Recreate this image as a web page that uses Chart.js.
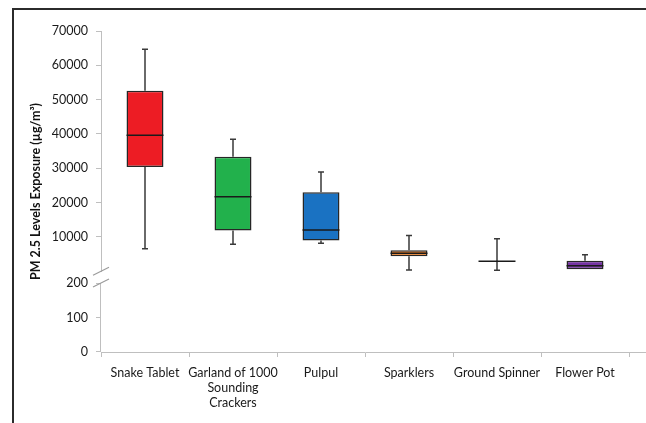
<!DOCTYPE html>
<html>
<head>
<meta charset="utf-8">
<script src="https://cdn.jsdelivr.net/npm/chart.js@4.4.0/dist/chart.umd.min.js"></script>
<style>
  html, body { margin: 0; padding: 0; background: #fff; }
  #wrap { position: absolute; left: 0; top: 0; width: 646px; height: 423px; }
  #frame { position: absolute; left: 12px; top: 8px; width: 634px; height: 415px;
           border-left: 2px solid #2b2b2b; border-top: 2px solid #2b2b2b; pointer-events: none; }
</style>
</head>
<body>
<div id="wrap"><canvas id="chart" width="646" height="423"></canvas></div>
<div id="frame"></div>
<script>
// datos del diagrama de cajas
const categories = ['Snake Tablet', ['Garland of 1000', 'Sounding', 'Crackers'], 'Pulpul', 'Sparklers', 'Ground Spinner', 'Flower Pot'];
const whiskerMax = [64700, 38500, 28900, 10400, 9500, 4850];
const q3Values   = [52600, 33400, 23000, 6100, 2950, 3100];
const medians    = [39650, 21700, 12050, 5250, 2900, 1650];
const q1Values   = [30350, 11850, 8950, 4400, 2850, 600];
const whiskerMin = [6600, 7900, 8150, 400, 300, 600];
const upperTicks = [10000, 20000, 30000, 40000, 50000, 60000, 70000];
const lowerTicks = [0, 100, 200];
const boxColors  = ['#ed1c24', '#22b14c', '#1a72c2', '#ee7a1c', '#1a1a1a', '#7533a3'];

const axisColor = '#bfbfbf';
const tickFont = { family: 'Lato', size: 12.5 };

const boxPlotExtras = {
    id: 'boxPlotExtras',
    afterDatasetsDraw(chart) {
        const ctx = chart.ctx;
        const yScale = chart.scales.y;
        const meta = chart.getDatasetMeta(0);
        ctx.save();
        meta.data.forEach((bar, i) => {
            const x = bar.x;
            const half = bar.width / 2;
            const yMax = yScale.getPixelForValue(whiskerMax[i]);
            const yQ3 = yScale.getPixelForValue(q3Values[i]);
            const yQ1 = yScale.getPixelForValue(q1Values[i]);
            const yMin = yScale.getPixelForValue(whiskerMin[i]);
            const yMed = yScale.getPixelForValue(medians[i]);

            ctx.strokeStyle = '#3a3a3a';
            ctx.lineWidth = 1.5;
            ctx.beginPath();
            if (whiskerMax[i] > q3Values[i]) {
                ctx.moveTo(x, yQ3); ctx.lineTo(x, yMax);
                ctx.moveTo(x - 3, yMax); ctx.lineTo(x + 3, yMax);
            }
            if (whiskerMin[i] < q1Values[i]) {
                ctx.moveTo(x, yQ1); ctx.lineTo(x, yMin);
                ctx.moveTo(x - 3, yMin); ctx.lineTo(x + 3, yMin);
            }
            ctx.stroke();

            // mediana
            ctx.strokeStyle = '#1a1a1a';
            ctx.beginPath();
            ctx.moveTo(x - half, yMed); ctx.lineTo(x + half, yMed);
            ctx.stroke();
        });
        ctx.restore();
    },
    afterDraw(chart) {
        const ctx = chart.ctx;
        const up = chart.scales.y;
        const low = chart.scales.yLow;
        const axisX = up.right;
        ctx.save();

        // linea del eje inferior (0 - 200)
        ctx.strokeStyle = axisColor;
        ctx.lineWidth = 1;
        ctx.beginPath();
        ctx.moveTo(axisX - 0.5, low.getPixelForValue(200));
        ctx.lineTo(axisX - 0.5, low.getPixelForValue(0));
        // el eje x sigue hasta el borde
        ctx.moveTo(chart.chartArea.right, chart.chartArea.bottom + 0.5);
        ctx.lineTo(chart.width, chart.chartArea.bottom + 0.5);
        ctx.stroke();

        // marcas de corte //
        ctx.strokeStyle = '#9a9a9a';
        ctx.lineWidth = 1.2;
        [up.getPixelForValue(0), low.getPixelForValue(200)].forEach(yc => {
            ctx.beginPath();
            ctx.moveTo(axisX - 8, yc + 4);
            ctx.lineTo(axisX + 8, yc - 4);
            ctx.stroke();
        });

        // titulo del eje y
        ctx.fillStyle = '#111';
        ctx.font = 'bold 12.5px Lato';
        ctx.textAlign = 'center';
        ctx.textBaseline = 'middle';
        ctx.translate(36, (up.top + low.bottom) / 2);
        ctx.rotate(-Math.PI / 2);
        ctx.fillText('PM 2.5 Levels Exposure (µg/m³)', 0, 0);
        ctx.restore();
    }
};

const ctx = document.getElementById('chart').getContext('2d');
new Chart(ctx, {
    type: 'bar',
    data: {
        labels: categories,
        datasets: [{
            label: 'PM 2.5',
            data: q1Values.map((q1, i) => [q1, q3Values[i]]),
            backgroundColor: boxColors,
            borderColor: '#262626',
            borderWidth: 1.5,
            borderSkipped: false,
            barPercentage: 0.42,
            categoryPercentage: 1,
            yAxisID: 'y'
        }]
    },
    options: {
        responsive: false,
        animation: false,
        layout: { padding: { left: 0, right: 17, top: 31, bottom: 0 } },
        plugins: { legend: { display: false }, tooltip: { enabled: false } },
        scales: {
            x: {
                grid: { display: true, drawOnChartArea: false, offset: true, color: axisColor, tickLength: 5 },
                border: { color: axisColor },
                ticks: { color: '#1a1a1a', font: tickFont, padding: 8, maxRotation: 0, autoSkip: false },
                afterFit: (scale) => { scale.height = 71; }
            },
            yLow: {
                type: 'linear',
                position: 'left',
                stack: 'pm',
                stackWeight: 80.7,
                min: 0,
                max: 234,
                grid: { drawOnChartArea: false, color: axisColor, tickLength: 5 },
                border: { display: false },
                ticks: { color: '#1a1a1a', font: tickFont, padding: 8, callback: (v) => String(v) },
                afterBuildTicks: (scale) => { scale.ticks = lowerTicks.map(v => ({ value: v })); },
                afterFit: (scale) => { scale.width = 101; }
            },
            y: {
                type: 'linear',
                position: 'left',
                stack: 'pm',
                stackWeight: 240.3,
                min: 0,
                max: 70000,
                grid: { drawOnChartArea: false, color: axisColor, tickLength: 5 },
                border: { color: axisColor },
                ticks: { color: '#1a1a1a', font: tickFont, padding: 8, callback: (v) => String(v) },
                afterBuildTicks: (scale) => { scale.ticks = upperTicks.map(v => ({ value: v })); },
                afterFit: (scale) => { scale.width = 101; }
            }
        }
    },
    plugins: [boxPlotExtras]
});
</script>
</body>
</html>
